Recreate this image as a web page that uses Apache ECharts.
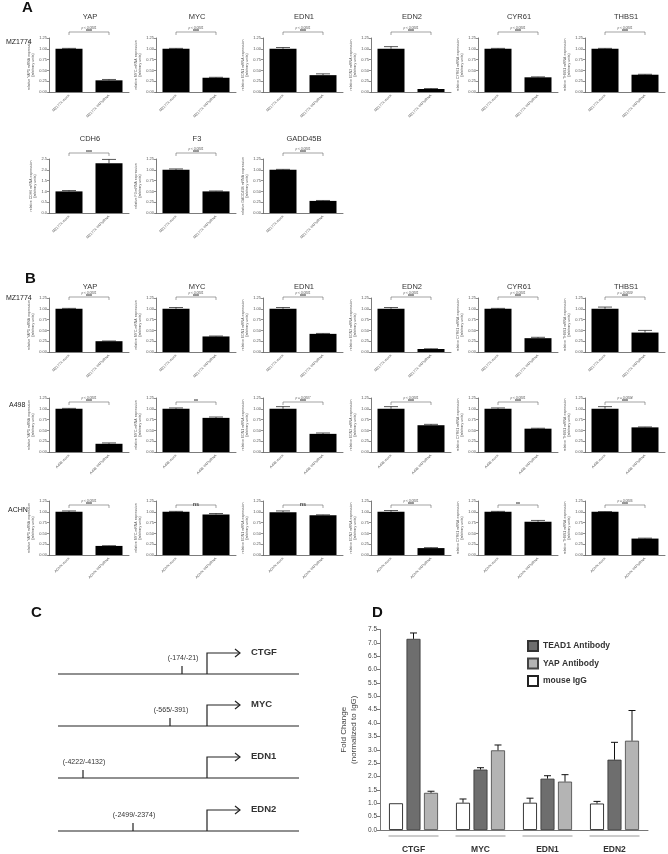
<!DOCTYPE html>
<html>
<head>
<meta charset="utf-8">
<title>YAP target genes</title>
<script src="https://cdn.jsdelivr.net/npm/echarts@6/dist/echarts.min.js"></script>
<style>
  html, body { margin: 0; padding: 0; background: #fff; }
  #fig { width: 668px; height: 854px; }
</style>
</head>
<body>
<div id="fig"></div>
<script>
  // A: MZ1774 mock vs YAP siRNA
  const aGenes = ['YAP', 'MYC', 'EDN1', 'EDN2', 'CYR61', 'THBS1', 'CDH6', 'F3', 'GADD45B']
  const aYNames = ['YAP1', 'MYC', 'EDN1', 'EDN2', 'CYR61', 'THBS1', 'CDH6', 'F3', 'GADD45B']
  const aMock = [1.00, 1.00, 1.00, 1.00, 1.00, 1.00, 1.00, 1.00, 1.00]
  const aMockErr = [0.01, 0.01, 0.03, 0.05, 0.01, 0.01, 0.04, 0.02, 0.01]
  const aSi = [0.27, 0.33, 0.39, 0.07, 0.34, 0.40, 2.30, 0.50, 0.28]
  const aSiErr = [0.02, 0.01, 0.03, 0.01, 0.01, 0.01, 0.18, 0.01, 0.01]
  const aSig = ['***', '***', '***', '***', '***', '***', '***', '***', '***']
  const aP = ['p < 0.0001', 'p < 0.0001', 'p < 0.0001', 'p < 0.0001', 'p < 0.0001', 'p < 0.0001', '', 'p < 0.0001', 'p < 0.0001']
  const aMax = [1.25, 1.25, 1.25, 1.25, 1.25, 1.25, 2.5, 1.25, 1.25]
  const aStep = [0.25, 0.25, 0.25, 0.25, 0.25, 0.25, 0.5, 0.25, 0.25]

  // B: three cell lines
  const bLines = ['MZ1774', 'A498', 'ACHN']
  const bGenes = ['YAP', 'MYC', 'EDN1', 'EDN2', 'CYR61', 'THBS1']
  const bYNames = ['YAP1', 'MYC', 'EDN1', 'EDN2', 'CYR61', 'THBS1']
  const bMzMock = [1.00, 1.00, 1.00, 1.00, 1.00, 1.00]
  const bMzMockErr = [0.01, 0.03, 0.03, 0.03, 0.01, 0.04]
  const bMzSi = [0.25, 0.36, 0.42, 0.07, 0.32, 0.45]
  const bMzSiErr = [0.005, 0.01, 0.01, 0.005, 0.02, 0.05]
  const bMzSig = ['***', '***', '***', '***', '***', '***']
  const bMzP = ['p < 0.0001', 'p < 0.0001', 'p < 0.0001', 'p < 0.0001', 'p < 0.0001', 'p = 0.0009']
  const bA498Mock = [1.00, 1.00, 1.00, 1.00, 1.00, 1.00]
  const bA498MockErr = [0.01, 0.02, 0.05, 0.05, 0.02, 0.05]
  const bA498Si = [0.19, 0.79, 0.42, 0.62, 0.54, 0.57]
  const bA498SiErr = [0.02, 0.02, 0.02, 0.02, 0.01, 0.01]
  const bA498Sig = ['***', '**', '***', '***', '***', '***']
  const bA498P = ['p < 0.0001', '', 'p = 0.0007', 'p < 0.0001', 'p < 0.0001', 'p = 0.0004']
  const bAchnMock = [1.00, 1.00, 0.99, 1.00, 1.00, 1.00]
  const bAchnMockErr = [0.02, 0.01, 0.03, 0.03, 0.01, 0.005]
  const bAchnSi = [0.21, 0.94, 0.92, 0.16, 0.77, 0.38]
  const bAchnSiErr = [0.005, 0.02, 0.01, 0.01, 0.03, 0.01]
  const bAchnSig = ['***', 'ns', 'ns', '***', '**', '***']
  const bAchnP = ['p < 0.0001', '', '', 'p < 0.0001', '', 'p = 0.0005']

  // C: binding sites
  const cGenes = ['CTGF', 'MYC', 'EDN1', 'EDN2']
  const cSites = ['(-174/-21)', '(-565/-391)', '(-4222/-4132)', '(-2499/-2374)']

  // D: ChIP fold change
  const dGenes = ['CTGF', 'MYC', 'EDN1', 'EDN2']
  const dIgG = [1.00, 1.02, 1.02, 0.99]
  const dIgGErr = [0, 0.14, 0.17, 0.08]
  const dTead = [7.15, 2.26, 1.92, 2.63]
  const dTeadErr = [0.22, 0.07, 0.11, 0.65]
  const dYap = [1.39, 2.98, 1.81, 3.34]
  const dYapErr = [0.06, 0.20, 0.26, 1.13]

  const FONT = '"Liberation Sans", Arial, sans-serif'
  const colX = [49, 156, 263, 371, 478, 585]

  let grids = []
  let xAxes = []
  let yAxes = []
  let series = []
  let graphics = []

  function txt(text, x, y, size, opts) {
    graphics.push({
      type: 'text', silent: true,
      style: Object.assign({text: text, x: x, y: y, verticalAlign: 'middle', fontSize: size, fontFamily: FONT, fill: '#222'}, opts || {})
    })
  }

  function errorBar(cap, width, slotPx) {
    return function (params, api) {
      let err = api.value(2)
      if (!err) return null
      let slot = api.value(3) || 0
      let base = api.coord([api.value(0), api.value(1)])
      let top = api.coord([api.value(0), api.value(1) + err])
      let x = base[0] + slot * slotPx
      return {
        type: 'group',
        children: [
          {type: 'line', shape: {x1: x, y1: base[1], x2: x, y2: top[1]}, style: {stroke: '#111', lineWidth: width}},
          {type: 'line', shape: {x1: x - cap / 2, y1: top[1], x2: x + cap / 2, y2: top[1]}, style: {stroke: '#111', lineWidth: width}}
        ]
      }
    }
  }

  function bracket(o) {
    return function (params, api) {
      let l = api.coord([0, o.max])
      let r = api.coord([1, o.max])
      let y = l[1] + o.off
      let mid = (l[0] + r[0]) / 2
      let kids = [
        {type: 'polyline', shape: {points: [[l[0], y + 3], [l[0], y], [r[0], y], [r[0], y + 3]]},
          style: {stroke: '#666', fill: 'none', lineWidth: 0.6}},
        {type: 'text', style: {text: o.sig, x: mid, y: y + 2.5, align: 'center', verticalAlign: 'bottom',
          fontSize: 5, fontWeight: 'bold', fontFamily: FONT, fill: '#333'}}
      ]
      if (o.p) {
        kids.push({type: 'text', style: {text: o.p, x: mid, y: y - 2.5, align: 'center', verticalAlign: 'bottom',
          fontSize: 3.2, fontStyle: 'italic', fontFamily: FONT, fill: '#555'}})
      }
      return {type: 'group', children: kids}
    }
  }

  // 小图：mock / siRNA
  function addSmall(o) {
    let i = grids.length
    grids.push({left: o.left, top: o.top, width: 80, height: 54})
    xAxes.push({
      gridIndex: i, type: 'category', data: o.labels,
      axisLine: {lineStyle: {color: '#444', width: 0.7}},
      axisTick: {show: false},
      axisLabel: {interval: 0, rotate: 45, fontSize: 3.6, color: '#555', margin: 3, fontFamily: FONT}
    })
    yAxes.push({
      gridIndex: i, type: 'value', min: 0, max: o.max, interval: o.step,
      name: 'relative ' + o.yName + ' mRNA expression\n(arbitrary units)',
      nameLocation: 'middle', nameGap: 12,
      nameTextStyle: {fontSize: 3.5, color: '#555', lineHeight: 4.2, fontFamily: FONT},
      axisLine: {show: true, lineStyle: {color: '#444', width: 0.7}},
      axisTick: {show: true, length: 2, lineStyle: {color: '#444', width: 0.6}},
      splitLine: {show: false},
      axisLabel: {fontSize: 4, margin: 2, color: '#555', fontFamily: FONT,
        formatter: v => v.toFixed(o.step < 0.5 ? 2 : 1)}
    })
    series.push({
      type: 'bar', xAxisIndex: i, yAxisIndex: i, data: [o.mock, o.si],
      barWidth: 27, itemStyle: {color: '#000'}, silent: true
    })
    series.push({
      type: 'custom', xAxisIndex: i, yAxisIndex: i, z: 3, silent: true,
      encode: {x: 0, y: 1},
      data: [[0, o.mock, o.mockErr], [1, o.si, o.siErr]],
      renderItem: errorBar(14, 0.7, 0)
    })
    series.push({
      type: 'custom', xAxisIndex: i, yAxisIndex: i, z: 3, silent: true,
      encode: {x: 0, y: 1},
      data: [[0, o.max]],
      renderItem: bracket(o)
    })
    if (o.title) {
      graphics.push({type: 'text', silent: true,
        style: {text: o.title, x: o.left + 41, y: o.titleY, align: 'center', verticalAlign: 'middle',
          fontSize: 7.5, fontFamily: FONT, fill: '#333'}})
    }
  }

  // panel A
  let aRows = [{top: 38, titleY: 17, off: -6}, {top: 159, titleY: 139, off: -6}]
  aGenes.forEach((g, k) => {
    let row = k < 6 ? aRows[0] : aRows[1]
    let col = k < 6 ? k : k - 6
    addSmall({
      left: colX[col], top: row.top, title: g, titleY: row.titleY, off: row.off,
      yName: aYNames[k], labels: ['MZ1774 mock', 'MZ1774 YAPsiRNA'],
      mock: aMock[k], mockErr: aMockErr[k], si: aSi[k], siErr: aSiErr[k],
      sig: aSig[k], p: aP[k], max: aMax[k], step: aStep[k]
    })
  })

  // panel B
  let bRows = [
    {top: 298, off: -1, mock: bMzMock, mockErr: bMzMockErr, si: bMzSi, siErr: bMzSiErr, sig: bMzSig, p: bMzP},
    {top: 398, off: 4, mock: bA498Mock, mockErr: bA498MockErr, si: bA498Si, siErr: bA498SiErr, sig: bA498Sig, p: bA498P},
    {top: 501, off: 4, mock: bAchnMock, mockErr: bAchnMockErr, si: bAchnSi, siErr: bAchnSiErr, sig: bAchnSig, p: bAchnP}
  ]
  bRows.forEach((row, r) => {
    bGenes.forEach((g, k) => {
      addSmall({
        left: colX[k], top: row.top, title: r === 0 ? g : '', titleY: 287, off: row.off,
        yName: bYNames[k], labels: [bLines[r] + ' mock', bLines[r] + ' YAPsiRNA'],
        mock: row.mock[k], mockErr: row.mockErr[k], si: row.si[k], siErr: row.siErr[k],
        sig: row.sig[k], p: row.p[k], max: 1.25, step: 0.25
      })
    })
  })

  // row labels + panel letters
  txt('MZ1774', 6, 42, 7)
  txt('MZ1774', 6, 298, 7)
  txt('A498', 9, 405, 7)
  txt('ACHN', 8, 510, 7)
  txt('A', 22, 8, 15, {fontWeight: 'bold', fill: '#111'})
  txt('B', 25, 279, 15, {fontWeight: 'bold', fill: '#111'})
  txt('C', 31, 613, 15, {fontWeight: 'bold', fill: '#111'})
  txt('D', 372, 613, 15, {fontWeight: 'bold', fill: '#111'})

  // panel C 示意图
  const cBaseY = [674, 726, 778, 831]
  const cSiteX = [182, 170, 83, 133]
  cGenes.forEach((g, i) => {
    let b = cBaseY[i]
    let ln = {stroke: '#222', lineWidth: 1.2, fill: 'none'}
    graphics.push({type: 'line', silent: true, shape: {x1: 58, y1: b, x2: 299, y2: b}, style: ln})
    graphics.push({type: 'polyline', silent: true, shape: {points: [[207, b], [207, b - 21], [240, b - 21]]}, style: ln})
    graphics.push({type: 'polyline', silent: true, shape: {points: [[235, b - 25], [240, b - 21], [235, b - 17]]}, style: ln})
    graphics.push({type: 'line', silent: true, shape: {x1: cSiteX[i], y1: b, x2: cSiteX[i], y2: b - 8}, style: ln})
    graphics.push({type: 'text', silent: true, style: {text: cSites[i], x: cSiteX[i] + 1, y: b - 16,
      align: 'center', verticalAlign: 'middle', fontSize: 7, fontFamily: FONT, fill: '#333'}})
    graphics.push({type: 'text', silent: true, style: {text: g, x: 251, y: b - 22,
      align: 'left', verticalAlign: 'middle', fontSize: 9.5, fontWeight: 'bold', fontFamily: FONT, fill: '#333'}})
  })

  // panel D
  let d = grids.length
  grids.push({left: 380, top: 629.5, width: 268, height: 201.5})
  xAxes.push({
    gridIndex: d, type: 'category', data: dGenes,
    axisLine: {lineStyle: {color: '#777', width: 1}},
    axisTick: {show: false},
    axisLabel: {fontSize: 8.5, fontWeight: 'bold', color: '#333', margin: 15, fontFamily: FONT}
  })
  yAxes.push({
    gridIndex: d, type: 'value', min: 0, max: 7.5, interval: 0.5,
    name: 'Fold Change\n(normalized to IgG)', nameLocation: 'middle', nameGap: 21,
    nameTextStyle: {fontSize: 8, color: '#444', lineHeight: 10, fontFamily: FONT},
    axisLine: {show: true, lineStyle: {color: '#777', width: 1}},
    axisTick: {show: true, length: 3, lineStyle: {color: '#777'}},
    splitLine: {show: false},
    axisLabel: {fontSize: 6.5, color: '#444', margin: 3, fontFamily: FONT, formatter: v => v.toFixed(1)}
  })
  let dBar = {type: 'bar', xAxisIndex: d, yAxisIndex: d, barWidth: 14, barGap: '25%', silent: true}
  series.push(Object.assign({}, dBar, {name: 'mouse IgG', data: dIgG,
    itemStyle: {color: '#fff', borderColor: '#222', borderWidth: 0.9}}))
  series.push(Object.assign({}, dBar, {name: 'TEAD1 Antibody', data: dTead,
    itemStyle: {color: '#6e6e6e', borderColor: '#333', borderWidth: 0.8}}))
  series.push(Object.assign({}, dBar, {name: 'YAP Antibody', data: dYap,
    itemStyle: {color: '#b4b4b4', borderColor: '#444', borderWidth: 0.8}}))
  let dErrData = []
  dGenes.forEach((g, i) => {
    dErrData.push([i, dIgG[i], dIgGErr[i], -1])
    dErrData.push([i, dTead[i], dTeadErr[i], 0])
    dErrData.push([i, dYap[i], dYapErr[i], 1])
  })
  series.push({type: 'custom', xAxisIndex: d, yAxisIndex: d, z: 3, silent: true,
    encode: {x: 0, y: 1}, data: dErrData, renderItem: errorBar(7, 1, 17.5)})
  // 分组下划线
  series.push({type: 'custom', xAxisIndex: d, yAxisIndex: d, silent: true,
    encode: {x: 0, y: 1}, data: dGenes.map((g, i) => [i, 0]),
    renderItem: function (params, api) {
      let c = api.coord([api.value(0), 0])
      return {type: 'line', shape: {x1: c[0] - 25, y1: c[1] + 6, x2: c[0] + 25, y2: c[1] + 6},
        style: {stroke: '#999', lineWidth: 1}}
    }})

  let chart = echarts.init(document.getElementById('fig'))
  chart.setOption({
    backgroundColor: '#fff',
    animation: false,
    textStyle: {fontFamily: FONT},
    legend: {
      data: ['TEAD1 Antibody', 'YAP Antibody', 'mouse IgG'],
      orient: 'vertical', left: 527, top: 640, padding: 0,
      itemWidth: 10, itemHeight: 10, itemGap: 5.5, icon: 'rect', selectedMode: false,
      textStyle: {fontSize: 8.5, fontWeight: 'bold', color: '#333', fontFamily: FONT}
    },
    grid: grids,
    xAxis: xAxes,
    yAxis: yAxes,
    series: series,
    graphic: graphics
  })
</script>
</body>
</html>
